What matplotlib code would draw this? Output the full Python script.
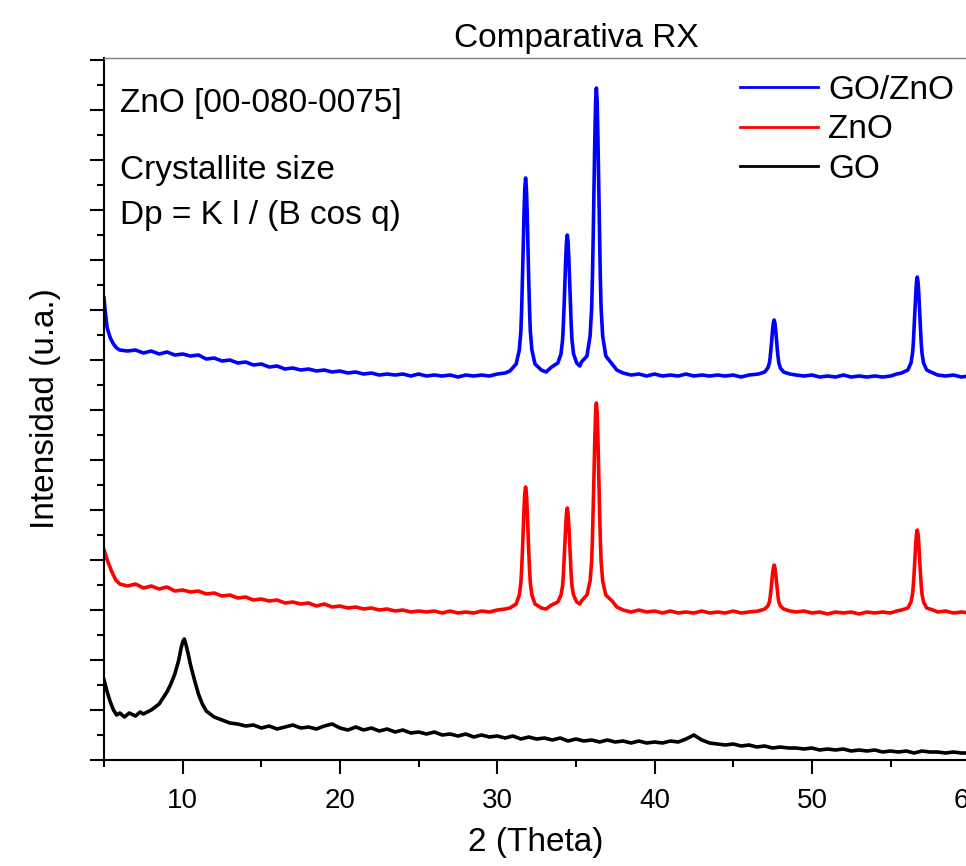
import matplotlib.pyplot as plt
from matplotlib.ticker import MultipleLocator, NullFormatter

plt.rcParams['font.family'] = ['Liberation Sans', 'DejaVu Sans']

# valores: (2 theta, intensidad u.a.)
go_data = [
    (5.0, 80), (5.2, 68), (5.4, 58), (5.6, 50), (5.8, 45), (6.0, 47), (6.3, 43), (6.6, 47),
    (7.0, 44), (7.3, 48), (7.5, 46), (8.0, 50), (8.5, 56), (8.75, 62), (9.0, 68), (9.25, 76),
    (9.5, 86), (9.75, 100), (9.9, 112), (10.0, 118), (10.1, 121), (10.2, 116), (10.35, 106),
    (10.5, 95), (10.75, 80), (11.0, 66), (11.25, 56), (11.5, 49), (12.0, 43), (12.5, 40),
    (13.0, 37), (13.5, 36), (14.0, 34), (14.5, 35), (15.0, 32), (15.5, 34), (16.0, 31),
    (16.5, 33), (17.0, 35), (17.5, 32), (18.0, 33), (18.5, 31), (19.0, 34), (19.5, 36),
    (20.0, 32), (20.5, 30), (21.0, 33), (21.5, 30), (22.0, 32), (22.5, 29), (23.0, 31),
    (23.5, 28), (24.0, 30), (24.5, 27), (25.0, 28), (25.5, 26), (26.0, 28), (26.5, 25),
    (27.0, 26), (27.5, 24), (28.0, 26), (28.5, 23), (29.0, 25), (29.5, 23), (30.0, 24),
    (30.5, 22), (31.0, 24), (31.5, 21), (32.0, 23), (32.5, 21), (33.0, 22), (33.5, 20),
    (34.0, 22), (34.5, 19), (35.0, 21), (35.5, 19), (36.0, 20), (36.5, 18), (37.0, 20),
    (37.5, 18), (38.0, 19), (38.5, 17), (39.0, 19), (39.5, 17), (40.0, 18), (40.5, 17),
    (41.0, 19), (41.5, 18), (42.0, 21), (42.5, 25), (43.0, 20), (43.5, 17), (44.0, 16),
    (44.5, 15), (45.0, 16), (45.5, 14), (46.0, 15), (46.5, 13), (47.0, 14), (47.5, 12),
    (48.0, 13), (48.5, 12), (49.0, 12), (49.5, 11), (50.0, 12), (50.5, 10), (51.0, 11),
    (51.5, 10), (52.0, 11), (52.5, 9), (53.0, 10), (53.5, 9), (54.0, 10), (54.5, 8),
    (55.0, 9), (55.5, 8), (56.0, 9), (56.5, 7), (57.0, 9), (57.5, 8), (58.0, 8), (58.5, 7),
    (59.0, 8), (59.5, 7), (60.0, 7),
]

zno_data = [
    (5.0, 210), (5.25, 198), (5.5, 188), (5.75, 180), (6.0, 176), (6.5, 174), (7.0, 176),
    (7.5, 172), (8.0, 174), (8.5, 171), (9.0, 173), (9.5, 169), (10.0, 170), (10.5, 168),
    (11.0, 169), (11.5, 166), (12.0, 167), (12.5, 164), (13.0, 165), (13.5, 162), (14.0, 163),
    (14.5, 160), (15.0, 161), (15.5, 159), (16.0, 160), (16.5, 157), (17.0, 158), (17.5, 156),
    (18.0, 157), (18.5, 154), (19.0, 156), (19.5, 153), (20.0, 154), (20.5, 152), (21.0, 153),
    (21.5, 151), (22.0, 152), (22.5, 150), (23.0, 151), (23.5, 149), (24.0, 150), (24.5, 148),
    (25.0, 149), (25.5, 148), (26.0, 149), (26.5, 147), (27.0, 149), (27.5, 147), (28.0, 148),
    (28.5, 147), (29.0, 149), (29.5, 148), (30.0, 150), (30.5, 151),
    # pico 31.8
    (30.8, 152), (31.2, 156), (31.4, 165), (31.5, 177), (31.55, 191), (31.6, 209), (31.65, 230),
    (31.7, 251), (31.75, 267), (31.8, 273), (31.85, 267), (31.9, 251), (31.95, 230), (32.0, 209),
    (32.05, 191), (32.1, 177), (32.2, 165), (32.4, 156), (32.8, 152), (33.1, 151),
    # pico 34.45
    (33.45, 155), (33.85, 158), (34.05, 165), (34.15, 174), (34.2, 185), (34.25, 200),
    (34.3, 217), (34.35, 234), (34.4, 247), (34.45, 252), (34.5, 247), (34.55, 234), (34.6, 217),
    (34.65, 200), (34.7, 185), (34.75, 174), (34.85, 165), (35.05, 158), (35.25, 156),
    # pico 36.3
    (35.35, 159), (35.7, 165), (35.9, 179), (36.0, 199), (36.05, 222), (36.1, 252), (36.15, 286),
    (36.2, 321), (36.25, 347), (36.3, 357), (36.35, 347), (36.4, 321), (36.45, 286), (36.5, 252),
    (36.55, 222), (36.6, 199), (36.7, 179), (36.9, 165), (37.3, 159), (37.6, 153),
    (38.0, 150), (38.5, 148), (39.0, 150), (39.5, 148), (40.0, 149), (40.5, 147), (41.0, 149),
    (41.5, 147), (42.0, 148), (42.5, 147), (43.0, 149), (43.5, 147), (44.0, 148), (44.5, 147),
    (45.0, 149), (45.5, 147), (46.0, 148),
    # pico 47.6
    (46.6, 149), (47.0, 151), (47.2, 154), (47.3, 158), (47.35, 163), (47.4, 170), (47.45, 178),
    (47.5, 186), (47.55, 192), (47.6, 195), (47.65, 192), (47.7, 186), (47.75, 178), (47.8, 170),
    (47.85, 163), (47.9, 158), (48.0, 154), (48.2, 151), (48.6, 149),
    (49.0, 148), (49.5, 149), (50.0, 147), (50.5, 148), (51.0, 146), (51.5, 148), (52.0, 147),
    (52.5, 148), (53.0, 146), (53.5, 148), (54.0, 147), (54.5, 148), (55.0, 147), (55.4, 149),
    # pico 56.7
    (55.7, 150), (56.1, 152), (56.3, 158), (56.4, 166), (56.45, 175), (56.5, 187), (56.55, 201),
    (56.6, 215), (56.65, 226), (56.7, 230), (56.75, 226), (56.8, 215), (56.85, 201), (56.9, 187),
    (56.95, 175), (57.0, 166), (57.1, 158), (57.3, 152), (57.7, 150),
    (58.0, 148), (58.5, 149), (59.0, 147), (59.5, 148), (60.0, 147),
]

gozno_data = [
    (5.0, 462), (5.08, 448), (5.2, 432), (5.4, 422), (5.6, 416), (5.8, 412), (6.0, 410),
    (6.5, 409), (7.0, 410), (7.5, 407), (8.0, 409), (8.5, 406), (9.0, 408), (9.5, 405),
    (10.0, 406), (10.5, 404), (11.0, 405), (11.5, 401), (12.0, 402), (12.5, 399), (13.0, 400),
    (13.5, 397), (14.0, 398), (14.5, 395), (15.0, 396), (15.5, 393), (16.0, 394), (16.5, 391),
    (17.0, 392), (17.5, 390), (18.0, 391), (18.5, 389), (19.0, 390), (19.5, 388), (20.0, 389),
    (20.5, 387), (21.0, 388), (21.5, 386), (22.0, 387), (22.5, 385), (23.0, 386), (23.5, 385),
    (24.0, 386), (24.5, 384), (25.0, 386), (25.5, 384), (26.0, 385), (26.5, 384), (27.0, 385),
    (27.5, 383), (28.0, 385), (28.5, 384), (29.0, 385), (29.5, 384), (30.0, 386), (30.5, 387),
    # pico 31.8
    (30.8, 389), (31.2, 396), (31.4, 410), (31.5, 429), (31.55, 451), (31.6, 480), (31.65, 513),
    (31.7, 547), (31.75, 572), (31.8, 582), (31.85, 572), (31.9, 547), (31.95, 513), (32.0, 480),
    (32.05, 451), (32.1, 429), (32.2, 410), (32.4, 396), (32.8, 390), (33.1, 388),
    # pico 34.45
    (33.45, 393), (33.85, 397), (34.05, 406), (34.15, 420), (34.2, 435), (34.25, 455),
    (34.3, 478), (34.35, 501), (34.4, 518), (34.45, 525), (34.5, 518), (34.55, 501), (34.6, 478),
    (34.65, 455), (34.7, 435), (34.75, 420), (34.85, 406), (35.05, 397), (35.25, 394),
    # pico 36.3
    (35.35, 398), (35.7, 404), (35.9, 424), (36.0, 452), (36.05, 483), (36.1, 525), (36.15, 573),
    (36.2, 621), (36.25, 658), (36.3, 672), (36.35, 658), (36.4, 621), (36.45, 573), (36.5, 525),
    (36.55, 483), (36.6, 452), (36.7, 424), (36.9, 404), (37.3, 396), (37.6, 390),
    (38.0, 387), (38.5, 385), (39.0, 386), (39.5, 384), (40.0, 386), (40.5, 384), (41.0, 385),
    (41.5, 384), (42.0, 386), (42.5, 384), (43.0, 385), (43.5, 384), (44.0, 385), (44.5, 384),
    (45.0, 385), (45.5, 383), (46.0, 385),
    # pico 47.6
    (46.6, 386), (47.0, 388), (47.2, 392), (47.3, 397), (47.35, 403), (47.4, 411), (47.45, 420),
    (47.5, 430), (47.55, 437), (47.6, 440), (47.65, 437), (47.7, 430), (47.75, 420), (47.8, 411),
    (47.85, 403), (47.9, 397), (48.0, 392), (48.2, 388), (48.6, 386),
    (49.0, 385), (49.5, 384), (50.0, 385), (50.5, 383), (51.0, 384), (51.5, 383), (52.0, 385),
    (52.5, 383), (53.0, 384), (53.5, 383), (54.0, 384), (54.5, 383), (55.0, 384), (55.4, 386),
    # pico 56.7
    (55.7, 387), (56.1, 390), (56.3, 397), (56.4, 407), (56.45, 417), (56.5, 432), (56.55, 449),
    (56.6, 465), (56.65, 478), (56.7, 483), (56.75, 478), (56.8, 465), (56.85, 449), (56.9, 432),
    (56.95, 417), (57.0, 407), (57.1, 397), (57.3, 390), (57.7, 387),
    (58.0, 385), (58.5, 384), (59.0, 385), (59.5, 383), (60.0, 384),
]

go_x, go_y = zip(*go_data)
zno_x, zno_y = zip(*zno_data)
gozno_x, gozno_y = zip(*gozno_data)

fig = plt.figure(figsize=(9.66, 8.66), dpi=100)
ax = fig.add_axes([0.1077, 0.1224, 0.977, 0.8106])

ax.plot(gozno_x, gozno_y, color='#0000ff', lw=2.6, label='GO/ZnO')
ax.plot(zno_x, zno_y, color='#ff0000', lw=2.6, label='ZnO')
ax.plot(go_x, go_y, color='black', lw=2.6, label='GO')

ax.set_xlim(5, 65)
ax.set_ylim(0, 702)

ax.xaxis.set_major_locator(MultipleLocator(10))
ax.xaxis.set_minor_locator(MultipleLocator(5))
ax.yaxis.set_major_locator(MultipleLocator(50))
ax.yaxis.set_minor_locator(MultipleLocator(25))
ax.yaxis.set_major_formatter(NullFormatter())
ax.tick_params(which='major', direction='out', length=10, width=1.5, labelsize=20, pad=10)
ax.tick_params(which='minor', direction='out', length=5, width=1.5)

for s in ['left', 'bottom']:
    ax.spines[s].set_linewidth(1.5)
ax.spines['top'].set_color('#808080')
ax.spines['top'].set_linewidth(1.0)

ax.set_title('Comparativa RX', fontsize=24, pad=8)
ax.set_xlabel('2 (Theta)', fontsize=24)
ax.set_ylabel('Intensidad (u.a.)', fontsize=24)
ax.xaxis.set_label_coords(0.4576, -0.096)
ax.yaxis.set_label_coords(-0.046, 0.5)

ax.text(0.017, 0.935, 'ZnO [00-080-0075]', transform=ax.transAxes, fontsize=24, va='center')
ax.text(0.017, 0.84, 'Crystallite size', transform=ax.transAxes, fontsize=24, va='center')
ax.text(0.017, 0.776, 'Dp = K l / (B cos q)', transform=ax.transAxes, fontsize=24, va='center')

leg = ax.legend(loc='upper left', bbox_to_anchor=(740 / 966, 1 - 75 / 866), bbox_transform=fig.transFigure,
                frameon=False, fontsize=24, handlelength=2.35, handletextpad=0.3, labelspacing=0.25,
                borderpad=0, borderaxespad=0)
for ln in leg.get_lines():
    ln.set_linewidth(2.0)

fig.savefig('out.png', dpi=100)
